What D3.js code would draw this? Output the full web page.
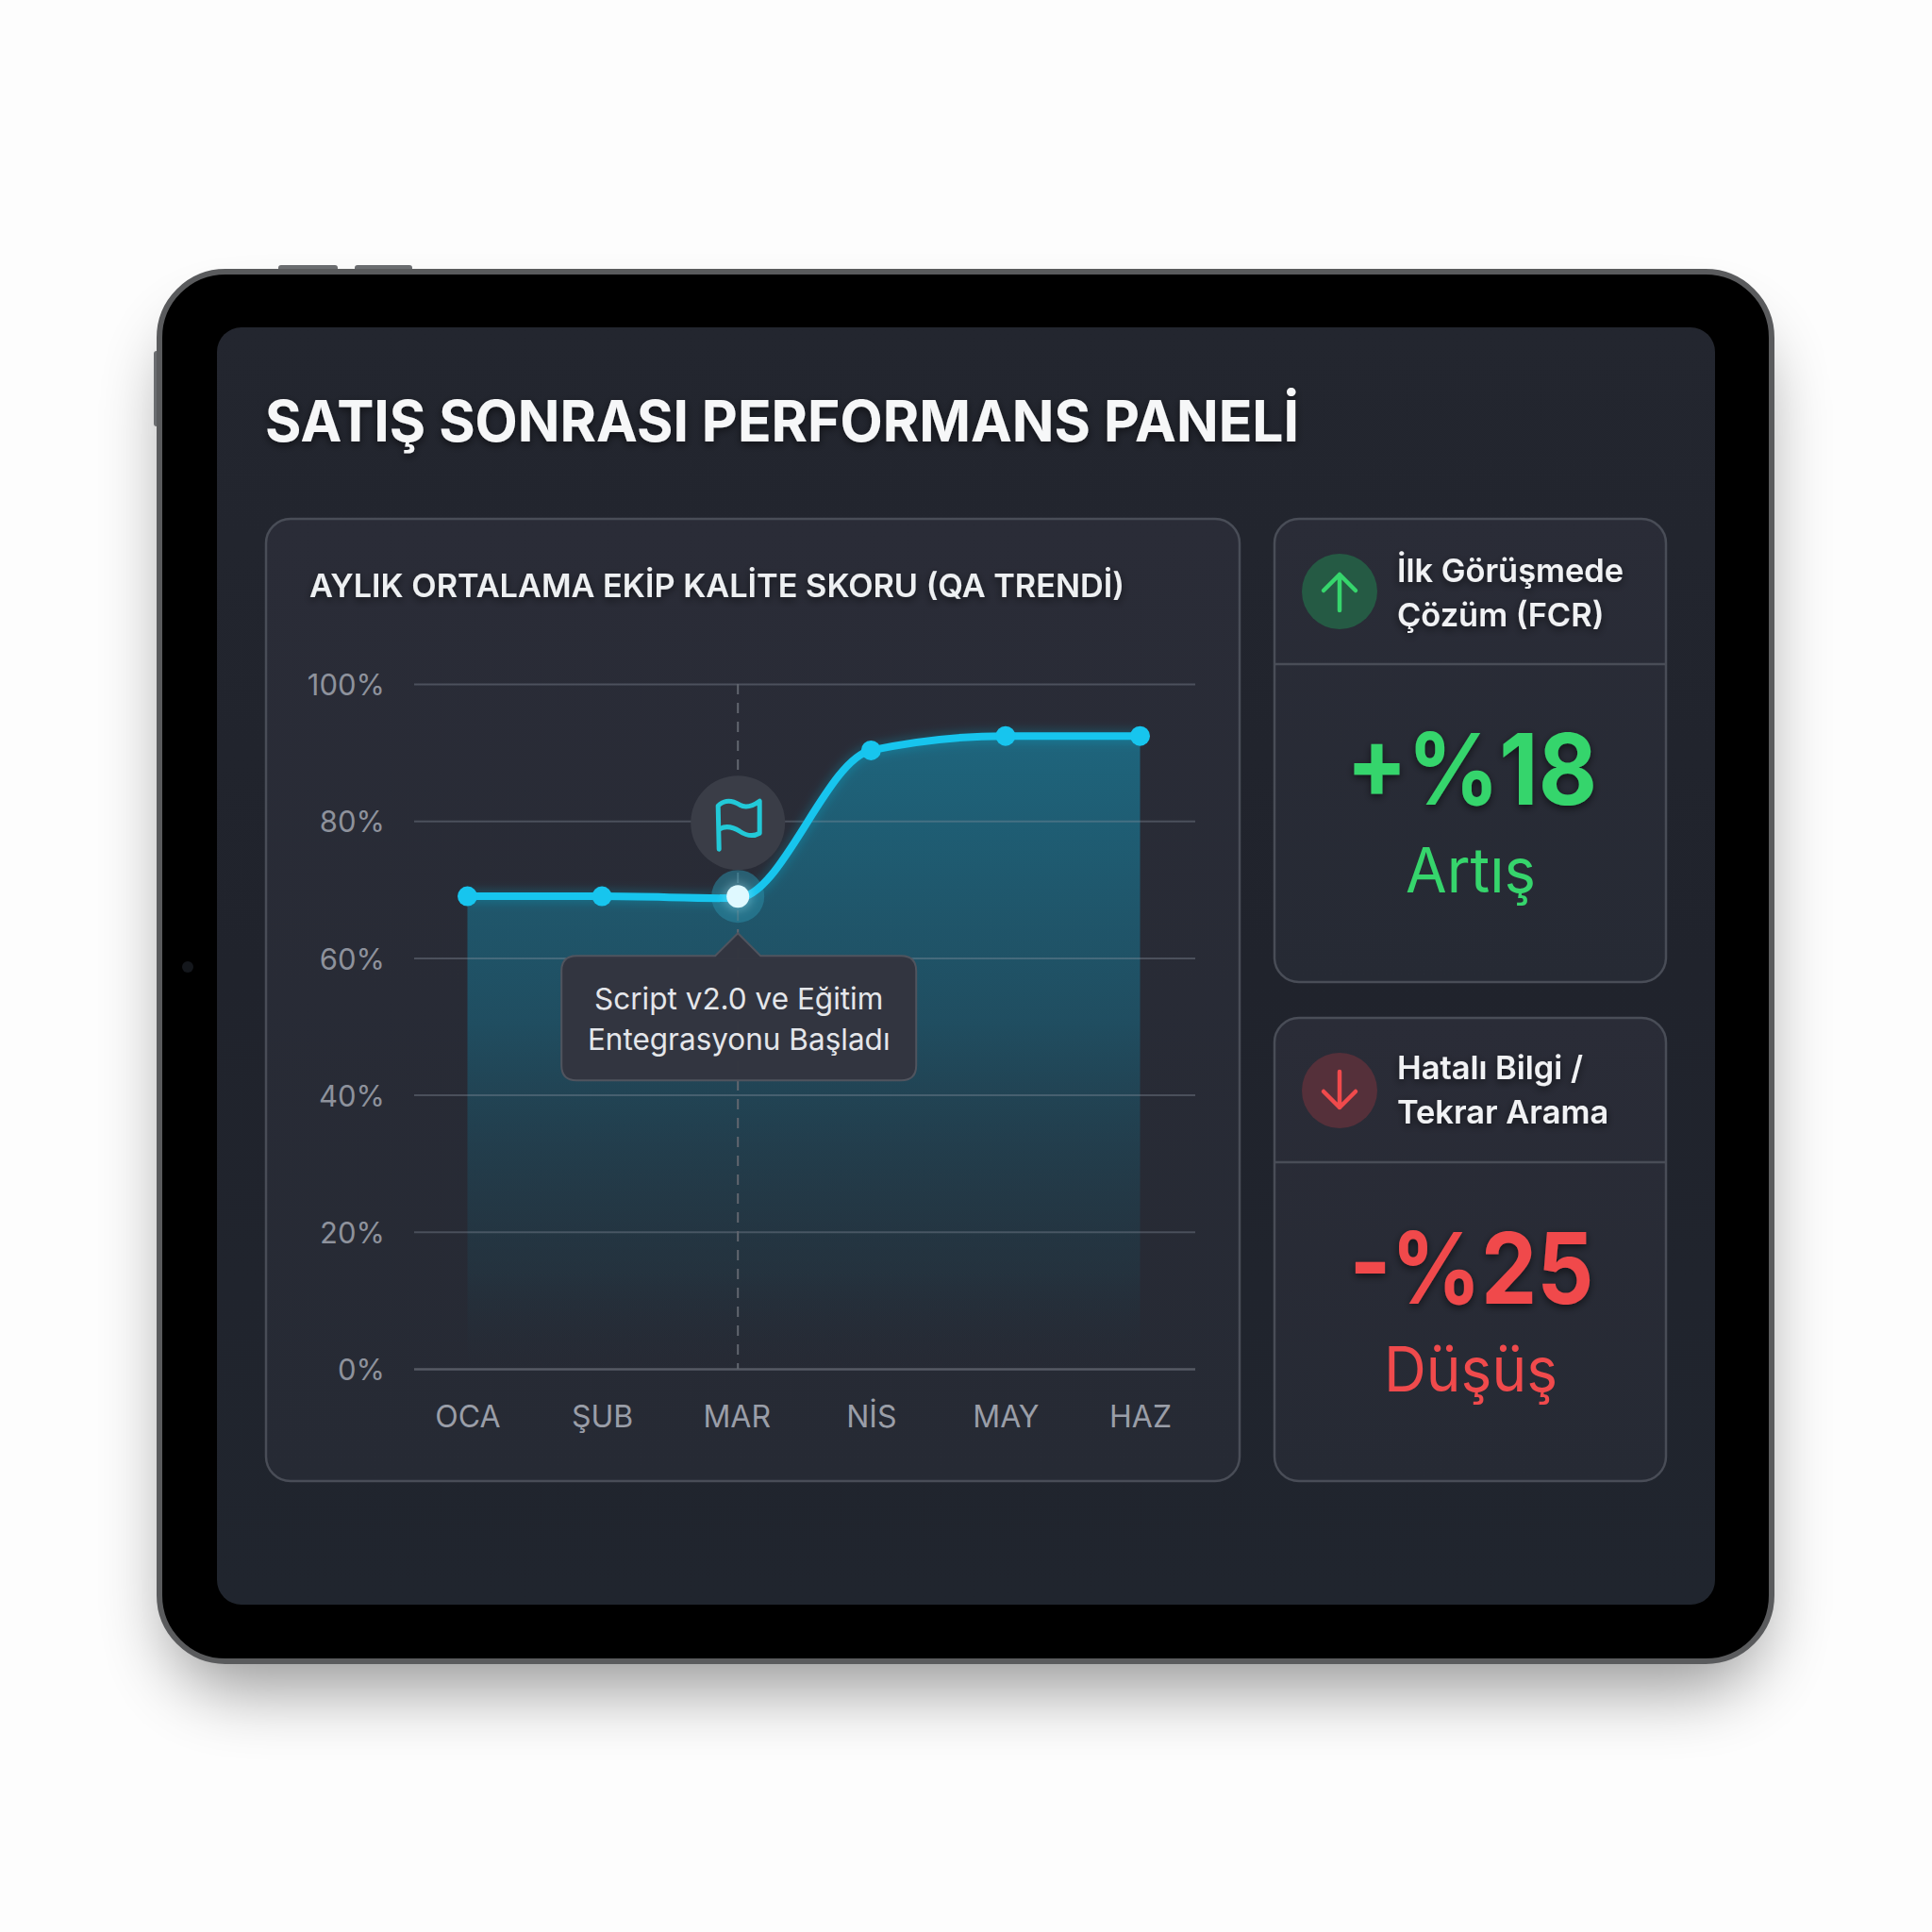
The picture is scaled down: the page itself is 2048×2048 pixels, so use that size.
<!DOCTYPE html>
<html lang="tr"><head><meta charset="utf-8">
<script src="https://cdn.jsdelivr.net/npm/d3@7"></script>
<style>
html,body{margin:0;padding:0;background:#fdfdfd;}
svg{display:block;}
text{font-family:Inter,"Noto Sans",sans-serif;}
</style></head><body>
<svg id="c" width="2048" height="2048" viewBox="0 0 2048 2048"></svg>
<script>
const months = ["OCA","ŞUB","MAR","NİS","MAY","HAZ"];
const qaScores = [69, 69, 68.7, 90.3, 92.4, 92.4];
const yTicks = [0,20,40,60,80,100];
const annotationMonth = "MAR";
const annotationLines = ["Script v2.0 ve Eğitim","Entegrasyonu Başladı"];
const pageTitle = "SATIŞ SONRASI PERFORMANS PANELİ";
const chartTitle = "AYLIK ORTALAMA EKİP KALİTE SKORU (QA TRENDİ)";
const kpiTitles = [["İlk Görüşmede","Çözüm (FCR)"],["Hatalı Bilgi /","Tekrar Arama"]];
const kpiValues = ["+%18","-%25"];
const kpiWords = ["Artış","Düşüş"];

const svg = d3.select("#c");
const defs = svg.append("defs");

const blur = (id,s)=>defs.append("filter").attr("id",id).attr("x","-30%").attr("y","-30%").attr("width","160%").attr("height","160%")
  .append("feGaussianBlur").attr("stdDeviation",s);
blur("bigShadow",36);
blur("glow",5);
const ts = defs.append("filter").attr("id","textShadow").attr("x","-5%").attr("y","-20%").attr("width","110%").attr("height","150%");
ts.append("feDropShadow").attr("dx",0).attr("dy",3).attr("stdDeviation",4).attr("flood-color","#000").attr("flood-opacity",.55);

const lg = (id,stops,x2=0,y2=1)=>{const g=defs.append("linearGradient").attr("id",id).attr("x1",0).attr("y1",0).attr("x2",x2).attr("y2",y2);
  stops.forEach(s=>g.append("stop").attr("offset",s[0]).attr("stop-color",s[1]).attr("stop-opacity",s[2]===undefined?1:s[2]));};
lg("screenG",[[0,"#23262f"],[.5,"#20232c"],[1,"#20252e"]]);
lg("cardG",[[0,"#2a2c37"],[1,"#262a34"]]);
lg("areaG",[[0,"#1d6a83",.92],[.45,"#1d5a70",.74],[.85,"#1f4150",.34],[1,"#20303c",0]]);

// device
svg.append("rect").attr("x",180).attr("y",345).attr("width",1687).attr("height",1445).attr("rx",70).attr("fill","#000").attr("opacity",.4).attr("filter","url(#bigShadow)");
svg.append("rect").attr("x",295).attr("y",281).attr("width",63).attr("height",8).attr("rx",3).attr("fill","#6b6d70");
svg.append("rect").attr("x",376).attr("y",281).attr("width",61).attr("height",8).attr("rx",3).attr("fill","#6b6d70");
svg.append("rect").attr("x",163).attr("y",372).attr("width",8).attr("height",80).attr("rx",3).attr("fill","#6b6d70");
svg.append("rect").attr("x",169).attr("y",288).attr("width",1709).attr("height",1473).attr("rx",70).attr("fill","#000").attr("stroke","#5a5b5d").attr("stroke-width",6);
svg.append("circle").attr("cx",199).attr("cy",1025).attr("r",6).attr("fill","#14171c");
svg.append("rect").attr("x",230).attr("y",347).attr("width",1588).attr("height",1354).attr("rx",26).attr("fill","url(#screenG)");

const txt = (x,y,t,size,weight,fill,anchor="start")=>svg.append("text").attr("x",x).attr("y",y).text(t)
  .attr("font-size",size).attr("font-weight",weight).attr("fill",fill).attr("text-anchor",anchor);

txt(281,468,pageTitle,60,700,"#f6f7f8").attr("filter","url(#textShadow)").attr("textLength",1096).attr("lengthAdjust","spacingAndGlyphs");

// panels
const panel=(x,y,w,h)=>svg.append("rect").attr("x",x).attr("y",y).attr("width",w).attr("height",h).attr("rx",26).attr("fill","url(#cardG)").attr("stroke","#494d57").attr("stroke-width",2.5);
panel(282,550,1032,1020);
txt(328,633,chartTitle,34,600,"#eef0f2").attr("textLength",864).attr("lengthAdjust","spacingAndGlyphs").attr("filter","url(#textShadow)");

// chart
const x = d3.scalePoint().domain(months).range([495.5,1208.5]);
const y = d3.scaleLinear().domain([0,100]).range([1451,725]);
const gridL = 439, gridR = 1267;
const rows = months.map((m,i)=>({m,v:qaScores[i]}));

const area = d3.area().x(d=>x(d.m)).y0(y(0)).y1(d=>y(d.v)).curve(d3.curveMonotoneX);
const line = d3.line().x(d=>x(d.m)).y(d=>y(d.v)).curve(d3.curveMonotoneX);

svg.append("path").attr("d",area(rows)).attr("fill","url(#areaG)");

const yAxis = svg.append("g").attr("transform",`translate(${gridL},0)`)
  .call(d3.axisLeft(y).tickValues(yTicks).tickFormat(d=>d+"%").tickSize(gridL-gridR).tickPadding(31));
yAxis.select(".domain").remove();
yAxis.selectAll("line").attr("stroke","#8a92a0").attr("stroke-width",2).attr("stroke-opacity",.36);
yAxis.selectAll("line").filter(d=>d===0).attr("stroke","#565a64").attr("stroke-opacity",1).attr("stroke-width",2.5);
yAxis.selectAll("text").attr("font-size",31).attr("fill","#8e929c").attr("font-family","Inter").attr("dy","0.38em");

const xAxis = svg.append("g").attr("transform",`translate(0,${y(0)})`)
  .call(d3.axisBottom(x).tickSize(0).tickPadding(39));
xAxis.select(".domain").remove();
xAxis.selectAll("text").attr("font-size",32).attr("fill","#9a9ea8").attr("font-family","Inter");

const ax = x(annotationMonth)+1.5, ay = y(qaScores[months.indexOf(annotationMonth)])-2;
svg.append("line").attr("x1",ax).attr("x2",ax).attr("y1",y(100)).attr("y2",y(0)).attr("stroke","#62666f").attr("stroke-width",2).attr("stroke-dasharray","11 9");

svg.append("path").attr("d",line(rows)).attr("fill","none").attr("stroke","#18c6ee").attr("stroke-width",14).attr("stroke-opacity",.2).attr("filter","url(#glow)");
svg.append("circle").attr("cx",ax).attr("cy",ay).attr("r",28).attr("fill","#2a8aa4").attr("fill-opacity",.55);
svg.append("path").attr("d",line(rows)).attr("fill","none").attr("stroke","#17c5ee").attr("stroke-width",8).attr("stroke-linecap","round");
svg.selectAll("circle.pt").data(rows.filter(d=>d.m!==annotationMonth)).join("circle").attr("class","pt")
  .attr("cx",d=>x(d.m)).attr("cy",d=>y(d.v)).attr("r",10.5).attr("fill","#17c5ee");
svg.append("circle").attr("cx",ax).attr("cy",ay).attr("r",15).attr("fill","#bff3ff").attr("opacity",.3).attr("filter","url(#glow)");
svg.append("circle").attr("cx",ax).attr("cy",ay).attr("r",12).attr("fill","#dff9ff");

// flag badge
const fy = ay-78;
svg.append("circle").attr("cx",ax).attr("cy",fy).attr("r",50).attr("fill","#3a3d47");
svg.append("path").attr("transform",`translate(${ax},${fy})`)
  .attr("d","M-20,28 L-21,-18 C-14,-25 -6,-24 2,-19 C9,-15 16,-18 23,-23 L23,11 C16,15 8,13 2,9 C-6,4 -14,3 -20,7")
  .attr("fill","none").attr("stroke","#22c9d8").attr("stroke-width",5).attr("stroke-linejoin","round").attr("stroke-linecap","round");

// tooltip
const tt = {w:376,h:132,top:ay+63};
const L=ax-187, R=L+tt.w, T=tt.top, B=T+tt.h, r=16, pw=24, ph=24;
svg.append("path").attr("d",`M${L+r},${T} L${ax-pw},${T} L${ax},${T-ph} L${ax+pw},${T} L${R-r},${T} Q${R},${T} ${R},${T+r} L${R},${B-r} Q${R},${B} ${R-r},${B} L${L+r},${B} Q${L},${B} ${L},${B-r} L${L},${T+r} Q${L},${T} ${L+r},${T} Z`)
  .attr("fill","#33353f").attr("fill-opacity",.97).attr("stroke","#50545e").attr("stroke-width",2);
annotationLines.forEach((t,i)=>txt(ax+1,T+57+i*43,t,31.5,400,"#e4e6ea","middle"));

// KPI cards
const kpi = [
 {top:550,h:491,div:704,color:"#36d56c",circle:"#255a44",dir:-1,vw:266,ww:138},
 {top:1079,h:491,div:1232,color:"#f04a4c",circle:"#55303a",dir:1,vw:259,ww:184}
];
kpi.forEach((k,i)=>{
  panel(1351,k.top,415,k.h);
  svg.append("line").attr("x1",1352).attr("x2",1765).attr("y1",k.div).attr("y2",k.div).attr("stroke","#494d57").attr("stroke-width",2.5);
  const cy=k.top+77;
  svg.append("circle").attr("cx",1420).attr("cy",cy).attr("r",40).attr("fill",k.circle);
  svg.append("path").attr("transform",`translate(1420,${cy}) scale(1,${-k.dir})`).attr("d","M0,20 L0,-18 M-17,-1 L0,-18 L17,-1")
    .attr("fill","none").attr("stroke",k.color).attr("stroke-width",4.5).attr("stroke-linecap","round").attr("stroke-linejoin","round");
  kpiTitles[i].forEach((t,j)=>txt(1481,k.top+(i?65:67)+j*47,t,34.4,600,"#f1f2f4").attr("filter","url(#textShadow)"));
  txt(1560,k.top+303,kpiValues[i],105,700,k.color,"middle").attr("textLength",k.vw).attr("lengthAdjust","spacingAndGlyphs").attr("filter","url(#textShadow)");
  txt(1559,k.top+396,kpiWords[i],66,400,k.color,"middle").attr("textLength",k.ww).attr("lengthAdjust","spacingAndGlyphs");
});
</script></body></html>
